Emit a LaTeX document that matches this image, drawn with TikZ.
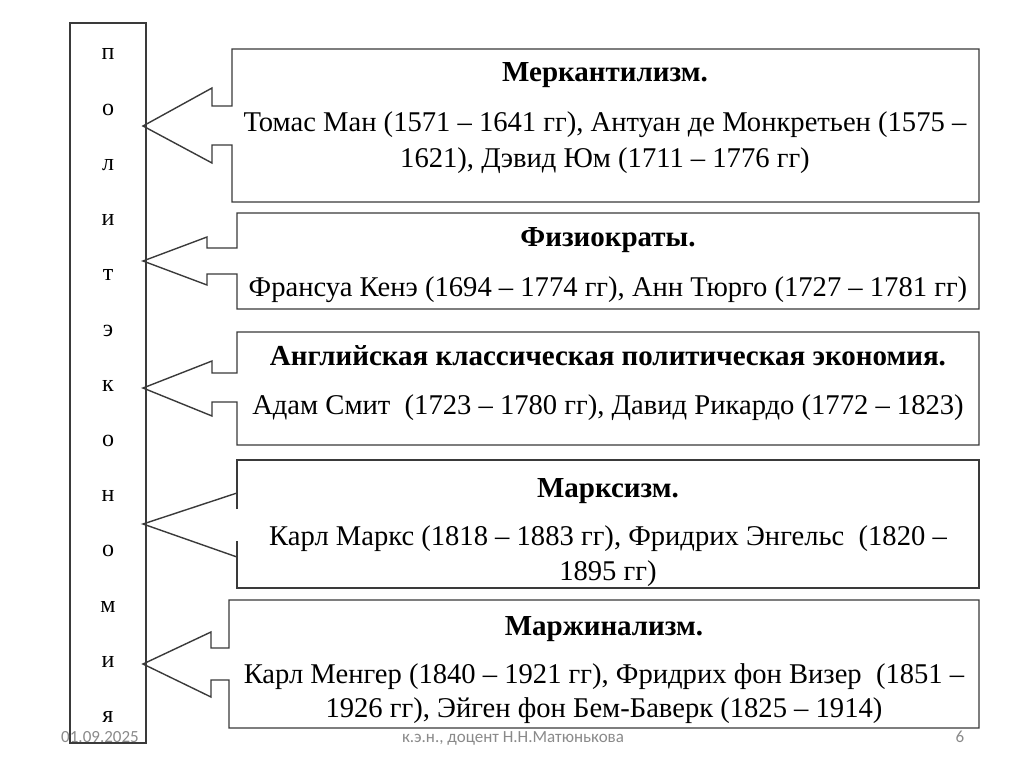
\documentclass[tikz,border=0pt]{standalone}
\usepackage{fontspec}
\setmainfont{Liberation Serif}
\newfontfamily\footfont{Carlito}
\definecolor{linecol}{HTML}{3A3A3A}
\definecolor{footcol}{HTML}{8A8A8A}
\begin{document}
\begin{tikzpicture}[x=1pt,y=-1pt,
  outline/.style={draw=linecol,line width=1.4pt,line join=miter},
  title/.style={anchor=base,inner sep=0pt,font=\fontsize{29}{34}\selectfont\bfseries},
  body/.style={anchor=base,inner sep=0pt,font=\fontsize{28.6}{34}\selectfont},
  vletter/.style={anchor=base,inner sep=0pt,font=\fontsize{24}{28}\selectfont},
  foot/.style={anchor=base,inner sep=0pt,text=footcol,font=\footfont\fontsize{17}{20}\selectfont}]
\useasboundingbox[fill=white] (0,0) rectangle (1024,767);
% vertical box
\draw[outline] (70,23) rectangle (146,743);
\foreach \l [count=\i] in {п,о,л,и,т,э,к,о,н,о,м,и,я}{
  \node[vletter] (v\i) at (108,{60+(\i-1)*55.2}) {\l};
}
% callout 1
\draw[outline] (232,106) -- (232,49) -- (979,49) -- (979,202) -- (232,202) -- (232,145)
  -- (212,145) -- (212,163) -- (143,126) -- (212,88) -- (212,106) -- cycle;
% callout 2
\draw[outline] (237,248) -- (237,213) -- (979,213) -- (979,309) -- (237,309) -- (237,274)
  -- (207,274) -- (207,285) -- (143,261) -- (207,237) -- (207,248) -- cycle;
% callout 3
\draw[outline] (237,373) -- (237,332) -- (979,332) -- (979,445) -- (237,445) -- (237,402)
  -- (212,402) -- (212,416) -- (143,388) -- (212,361) -- (212,373) -- cycle;
% callout 4
\draw[outline] (237,509) -- (237,460) -- (979,460) -- (979,588) -- (237,588) -- (237,541);
\draw[outline] (237,493) -- (143,524) -- (237,557);
% callout 5
\draw[outline] (229,648) -- (229,600) -- (979,600) -- (979,728) -- (229,728) -- (229,680)
  -- (211,680) -- (211,697) -- (143,664) -- (211,632) -- (211,648) -- cycle;
% texts
\node[title] (t1) at (605,82) {Меркантилизм.};
\node[body] (b1a) at (605,132) {Томас Ман (1571 – 1641 гг), Антуан де Монкретьен (1575 –};
\node[body] (b1b) at (605,168) {1621), Дэвид Юм (1711 – 1776 гг)};
\node[title] (t2) at (608,247) {Физиократы.};
\node[body] (b2a) at (608,296) {Франсуа Кенэ (1694 – 1774 гг), Анн Тюрго (1727 – 1781 гг)};
\node[title] (t3) at (608,365) {Английская классическая политическая экономия.};
\node[body] (b3a) at (608,414) {Адам Смит\ \ (1723 – 1780 гг), Давид Рикардо (1772 – 1823)};
\node[title] (t4) at (608,497) {Марксизм.};
\node[body] (b4a) at (608,545) {Карл Маркс (1818 – 1883 гг), Фридрих Энгельс\ \ (1820 –};
\node[body] (b4b) at (608,580) {1895 гг)};
\node[title] (t5) at (604,635) {Маржинализм.};
\node[body] (b5a) at (604,683) {Карл Менгер (1840 – 1921 гг), Фридрих фон Визер\ \ (1851 –};
\node[body] (b5b) at (604,717) {1926 гг), Эйген фон Бем-Баверк (1825 – 1914)};
% footer
\node[foot] (f1) at (100,742) {01.09.2025};
\node[foot] (f2) at (513,742) {к.э.н., доцент Н.Н.Матюнькова};
\node[foot] (f3) at (960,742) {6};
\end{tikzpicture}
\end{document}
